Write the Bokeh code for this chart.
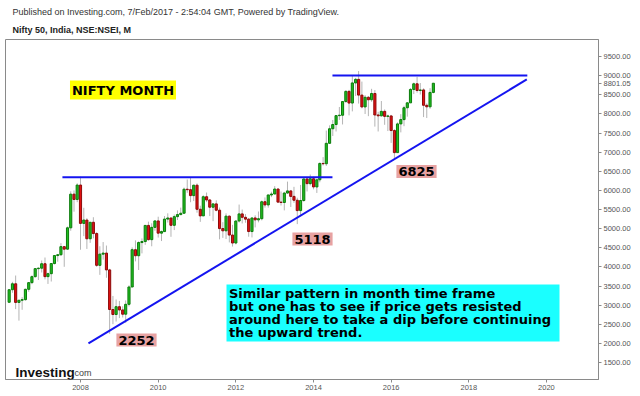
import pandas as pd
from bokeh.plotting import figure
from bokeh.models import (ColumnDataSource, Label, BoxAnnotation, FixedTicker, Title,
                          NumeralTickFormatter, DatetimeTickFormatter, Range1d)
from bokeh.embed import file_html
from bokeh.resources import INLINE

# ---------------- data (monthly Nifty 50 candles, Mar 2006 .. Feb 2017) ----------------
first_month = "2006-03-01"
opens = [3074, 3403, 3558, 3071, 3128, 3143, 3413, 3588, 3744, 3954,
         3966, 4082, 3745, 3822, 4087, 4296, 4318, 4529, 4464, 5021, 5901, 5763,
         6139, 5137, 5224, 4735, 5166, 4871, 4040, 4333, 4360, 3921, 2885, 2755,
         2959, 2874, 2763, 3021, 3474, 4449, 4291, 4636, 4662, 5084, 4712, 5033,
         5201, 4882, 4922, 5249, 5278, 5087, 5313, 5367, 5402, 6030, 6018, 5863,
         6135, 5506, 5333, 5834, 5749, 5560, 5647, 5482, 5001, 4943, 5326, 4832,
         4624, 5199, 5385, 5296, 5248, 4924, 5279, 5229, 5259, 5703, 5620, 5880,
         5905, 6035, 5693, 5683, 5930, 5986, 5843, 5742, 5471, 5735, 6299, 6176,
         6304, 6090, 6277, 6704, 6696, 7230, 7611, 7721, 7954, 7965, 8322, 8588,
         8283, 8809, 8902, 8491, 8182, 8434, 8369, 8533, 7971, 7949, 8066, 7935,
         7946, 7564, 6987, 7738, 7850, 8160, 8288, 8639, 8786, 8611, 8626, 8224,
         8185, 8561]
highs = [3418, 3609, 3774, 3134, 3208, 3432, 3603, 3779, 3969, 3985,
         4167, 4245, 3850, 4101, 4302, 4328, 4620, 4545, 5055, 5976, 5998, 6185,
         6357, 5545, 5272, 5112, 5298, 4909, 4540, 4649, 4558, 3950, 3240, 3147,
         3110, 2970, 3123, 3517, 4509, 4693, 4669, 4743, 5088, 5182, 5139, 5221,
         5311, 4951, 5329, 5400, 5279, 5367, 5477, 5549, 6073, 6284, 6338, 6147,
         6181, 5600, 5872, 5944, 5775, 5657, 5740, 5551, 5169, 5399, 5345, 5099,
         5217, 5629, 5499, 5379, 5279, 5286, 5348, 5448, 5735, 5815, 5885, 5965,
         6111, 6052, 5971, 5962, 6229, 6011, 6093, 5808, 6142, 6309, 6342, 6415,
         6358, 6282, 6730, 6869, 7563, 7700, 7841, 7968, 8180, 8330, 8617, 8627,
         8996, 8941, 9119, 8844, 8490, 8467, 8655, 8622, 8055, 8336, 8116, 7979,
         7973, 7600, 7777, 7992, 8213, 8308, 8674, 8819, 8968, 8806, 8669, 8274,
         8672, 8801.05]
lows = [3070, 3323, 2896, 2595, 2878, 3117, 3350, 3547, 3720, 3657,
        3853, 3674, 3554, 3617, 4063, 4135, 4283, 4002, 4448, 4945, 5443, 5691,
        4448, 4803, 4469, 4628, 4745, 3999, 3791, 4189, 3715, 2252, 2502, 2571,
        2661, 2677, 2539, 2965, 3478, 4144, 3918, 4353, 4576, 4687, 4538, 4943,
        4766, 4675, 4918, 5160, 4786, 4962, 5225, 5348, 5400, 5937, 5690, 5721,
        5416, 5177, 5330, 5693, 5328, 5195, 5453, 4720, 4758, 4728, 4640, 4531,
        4588, 5159, 5135, 5154, 4788, 4770, 5032, 5164, 5215, 5549, 5548, 5823,
        5900, 5671, 5604, 5477, 5910, 5566, 5675, 5118, 5318, 5700, 5972, 6129,
        6027, 5933, 6212, 6650, 6638, 7220, 7422, 7540, 7841, 7723, 8290, 7961,
        8065, 8470, 8269, 8144, 7997, 7940, 8315, 7667, 7540, 7931, 7714, 7551,
        7241, 6825, 6980, 7516, 7678, 7927, 8287, 8518, 8555, 8506, 7916, 7893,
        8133, 8537]
closes = [3403, 3558, 3071, 3128, 3143, 3413, 3588, 3744, 3954, 3966,
          4082, 3745, 3822, 4087, 4296, 4318, 4529, 4464, 5021, 5901, 5763, 6139,
          5137, 5224, 4735, 5166, 4871, 4040, 4333, 4360, 3921, 2885, 2755, 2959,
          2874, 2763, 3021, 3474, 4449, 4291, 4636, 4662, 5084, 4712, 5033, 5201,
          4882, 4922, 5249, 5278, 5087, 5313, 5367, 5402, 6030, 6018, 5863, 6135,
          5506, 5333, 5834, 5749, 5560, 5647, 5482, 5001, 4943, 5326, 4832, 4624,
          5199, 5385, 5296, 5248, 4924, 5279, 5229, 5259, 5703, 5620, 5880, 5905,
          6035, 5693, 5683, 5930, 5986, 5843, 5742, 5471, 5735, 6299, 6176, 6304,
          6090, 6277, 6704, 6696, 7230, 7611, 7721, 7954, 7965, 8322, 8588, 8283,
          8809, 8902, 8491, 8182, 8434, 8369, 8533, 7971, 7949, 8066, 7935, 7946,
          7564, 6987, 7738, 7850, 8160, 8288, 8639, 8786, 8611, 8626, 8224, 8185,
          8561, 8801.05]
last_price = 8801.05

# trend / resistance lines (date, level)
res1_dates = ["2007-07-15", "2014-06-28"]
res1_level = 6340
res2_dates = ["2014-06-28", "2019-07-05"]
res2_level = 9005
trend_dates = ["2008-03-16", "2019-06-30"]
trend_levels = [2000, 8900]

y_ticks = list(range(1500, 10000, 500))
x_tick_years = list(range(2008, 2021, 2))

# ---------------- geometry helpers (reference pixel -> data) ----------------
YEAR_MS = 365.25 * 86400000.0
T2008 = pd.Timestamp("2008-01-01").value / 1e6
def px_to_x(X):
    return T2008 + (X - 80.0) / 38.83 * YEAR_MS
def px_to_y(Y):
    return 9500.0 - (Y - 56.0) * 8000.0 / 306.0
def ms(d):
    return pd.Timestamp(d).value / 1e6

FRAME_L, FRAME_T, FRAME_R, FRAME_B = 5, 39, 598, 379

dates = pd.date_range(first_month, periods=len(opens), freq="MS")
df = pd.DataFrame(dict(date=dates, open=opens, high=highs, low=lows, close=closes))
df["top"] = df[["open", "close"]].max(axis=1)
df["bottom"] = df[["open", "close"]].min(axis=1)
up = df["close"] >= df["open"]
df["fill"] = ["#1fbf1f" if u else "#e01010" for u in up]
df["edge"] = ["#0b7a0b" if u else "#8c0a0a" for u in up]
src = ColumnDataSource(df)

p = figure(frame_width=FRAME_R - FRAME_L, frame_height=FRAME_B - FRAME_T, x_axis_type="datetime",
           y_axis_location="right", output_backend="svg", toolbar_location=None,
           min_border_left=FRAME_L, min_border_top=FRAME_T, min_border_right=0, min_border_bottom=0,
           x_range=Range1d(px_to_x(FRAME_L), px_to_x(FRAME_R)),
           y_range=Range1d(px_to_y(FRAME_B), px_to_y(FRAME_T)))
p.background_fill_color = "white"
p.border_fill_color = "white"
p.outline_line_color = "#8a8a8a"
p.xgrid.visible = False
p.ygrid.visible = False

# header (two title lines; the one added later sits nearer the frame)
p.title.text = "Published on Investing.com, 7/Feb/2017 - 2:54:04 GMT, Powered by TradingView."
p.title.text_font = "Liberation Sans"
p.title.text_font_size = "9px"
p.title.text_font_style = "normal"
p.title.text_color = "#333333"
p.title.align = "left"
p.title.offset = 7
p.title.standoff = 3
p.add_layout(Title(text="Nifty 50, India, NSE:NSEI, M",
                   text_font="Liberation Sans", text_font_size="9px", text_font_style="bold",
                   text_color="#222222", align="left", offset=7, standoff=9), "above")

# candles
p.segment(x0="date", y0="low", x1="date", y1="high", source=src,
          line_color="#b4b4b4", line_width=1)
p.vbar(x="date", width=20 * 86400000, top="top", bottom="bottom", source=src,
       fill_color="fill", line_color="edge", line_width=1)

# drawn lines
blue = "#1414f0"
p.line(x=[pd.Timestamp(d) for d in res1_dates], y=[res1_level, res1_level], line_color=blue, line_width=2)
p.line(x=[pd.Timestamp(d) for d in res2_dates], y=[res2_level, res2_level], line_color=blue, line_width=2)
p.line(x=[pd.Timestamp(d) for d in trend_dates], y=trend_levels, line_color=blue, line_width=2)

# axes
p.yaxis.ticker = FixedTicker(ticks=y_ticks + [last_price])
p.yaxis.formatter = NumeralTickFormatter(format="0.00")
p.xaxis.ticker = FixedTicker(ticks=[ms(f"{y}-01-01") for y in x_tick_years])
p.xaxis.formatter = DatetimeTickFormatter(years="%Y", months="%Y", days="%Y",
                                          hours="%Y", minutes="%Y", seconds="%Y")
for ax in (p.xaxis[0], p.yaxis[0]):
    ax.axis_line_color = "#8a8a8a"
    ax.major_tick_line_color = "#8a8a8a"
    ax.major_tick_out = 3
    ax.major_tick_in = 0
    ax.minor_tick_line_color = None
    ax.major_label_standoff = 2
    ax.major_label_text_font = "Liberation Sans"
    ax.major_label_text_font_size = "7.5px"
    ax.major_label_text_color = "#555555"

# annotations
def tag(text, X, Y, bg):
    p.add_layout(Label(x=px_to_x(X), y=px_to_y(Y), text=text, text_font="DejaVu Sans",
                       text_font_style="bold", text_font_size="13px", text_color="black",
                       text_align="center", text_baseline="middle",
                       background_fill_color=bg, background_fill_alpha=1.0, padding=2))

tag("NIFTY MONTH", 122.5, 89.5, "#ffff00")
tag("2252", 136, 339.5, "#e8a2a2")
tag("5118", 312, 238.5, "#e8a2a2")
tag("6825", 416, 171, "#e8a2a2")

p.add_layout(BoxAnnotation(left=px_to_x(226), right=px_to_x(559), top=px_to_y(284), bottom=px_to_y(341),
                           fill_color="#1affff", fill_alpha=1.0, line_color=None))
note_lines = ["Similar pattern in month time frame",
              "but one has to see if price gets resisted",
              "around here to take a dip before continuing",
              "the upward trend."]
for i, line in enumerate(note_lines):
    p.add_layout(Label(x=px_to_x(228.5), y=px_to_y(293 + 13 * i), text=line, text_font="DejaVu Sans",
                       text_font_style="bold", text_font_size="13px", text_color="black",
                       text_baseline="middle"))

# logo
p.add_layout(Label(x=px_to_x(15), y=px_to_y(372), text="Investing", text_font="Liberation Sans",
                   text_font_style="bold", text_font_size="13.5px", text_color="#111111",
                   text_baseline="alphabetic"))
p.add_layout(Label(x=px_to_x(74), y=px_to_y(372), text="com", text_font="Liberation Sans",
                   text_font_size="9px", text_color="#444444", text_baseline="alphabetic"))

open("out.html", "w").write(file_html(p, INLINE))
